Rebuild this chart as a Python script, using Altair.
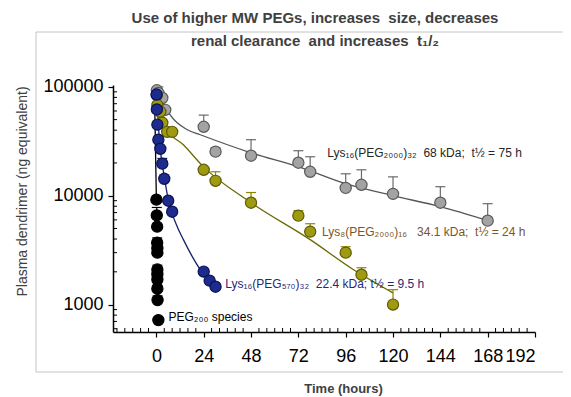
import altair as alt
import pandas as pd

# ---------------- data ----------------
gray_t = [0.25, 1, 3, 4.5, 24, 30, 48, 72, 78, 96, 104, 120, 144, 168]
gray_v = [93000, 88000, 79000, 61500, 43000, 25400, 23300, 20100, 16600, 11800, 12600, 10400, 8630, 5900]
gray_up = [97000, 100000, 79000, 61500, 55000, 27500, 32700, 25900, 22800, 15900, 17300, 14900, 12100, 8450]

olive_t = [0.25, 0.5, 2, 3, 5.5, 8, 24, 30, 48, 72, 78, 96, 104, 120]
olive_v = [84000, 68000, 59000, 46800, 38600, 38600, 17300, 13700, 8630, 6560, 4680, 3000, 1880, 1000]
olive_up = [84000, 72000, 59000, 50000, 38600, 38600, 17300, 16600, 10700, 7280, 5530, 3400, 2180, 1370]

navy_t = [0.08, 0.25, 0.5, 1, 2, 3, 4, 6, 8, 24, 27, 30]
navy_v = [85000, 62000, 45000, 32700, 27000, 19700, 14300, 9000, 7130, 2010, 1660, 1460]
navy_up = [95000, 62000, 45000, 32700, 27000, 22000, 15500, 9000, 7130, 2010, 1660, 1460]

black_t = [0, 0.2, 0.4, 0.4, 0.5, 0.5, 0.5, 0.5, 0.5, 0.5, 0.6, 1]
black_v = [9200, 6600, 5200, 3700, 3300, 3000, 2100, 1900, 1700, 1400, 1100, 720]
black_up = [9200, 7800, 5200, 4100, 3300, 3000, 2300, 1900, 1800, 1500, 1200, 720]

# fitted curves
gray_fit_t = [0, 3, 7, 15.7, 22.3, 48, 72, 96, 120, 144, 168]
gray_fit_v = [94000, 75000, 55300, 40400, 36300, 24800, 18500, 12900, 10000, 7930, 5900]
olive_fit_t = [0, 5.6, 13.7, 23.8, 48, 78, 100, 120]
olive_fit_v = [76000, 40400, 29400, 18500, 8630, 3950, 2090, 1280]
navy_fit_t = [0, 0.5, 1, 2, 4, 6, 10, 13.7, 18, 22.3, 30.9]
navy_fit_v = [97000, 70000, 45000, 26400, 15000, 9180, 5500, 3950, 2800, 2090, 1460]
black_fit_t = [-1, 0]
black_fit_v = [100000, 9200]

# annotations
label_text = ["Lys₁₆(PEG₂₀₀₀)₃₂\u00a0\u00a068 kDa;\u00a0\u00a0t½ = 75 h",
              "Lys₈(PEG₂₀₀₀)₁₆\u00a0\u00a0\u00a034.1 kDa;\u00a0\u00a0t½ = 24 h",
              "Lys₁₆(PEG₅₇₀)₃₂\u00a0\u00a022.4 kDa;\u00a0t½ = 9.5 h",
              "PEG₂₀₀ species"]
label_t = [86.6, 84, 34.9, 6.1]
label_v = [24800, 4680, 1560, 776]
label_color = ["#262626", "#7a5528", "#1f2a78", "#000000"]

title_lines = ["Use of higher MW PEGs, increases\u00a0\u00a0size, decreases",
               "renal clearance\u00a0\u00a0and increases\u00a0\u00a0t₁/₂"]

x_major = [0, 24, 48, 72, 96, 120, 144, 168, 192]
x_minor = [t for t in range(-20, 192, 4) if t % 24 != 0]
y_major = [1000, 10000, 100000]
y_minor = [600, 700, 800, 900] + [m * 1000 for m in range(2, 10)] + [m * 10000 for m in range(2, 10)]

W, H = 422, 247

xs = alt.Scale(domain=[-22, 192], nice=False, zero=False)
ys = alt.Scale(type="log", domain=[560, 104000], nice=False)
xaxis = alt.Axis(values=x_major, title="Time (hours)", grid=False, tickSize=5,
                 labelFontSize=18, labelPadding=10, labelColor="black", labelFont="Liberation Sans",
                 domainColor="black", domainWidth=1.5, tickColor="black", tickWidth=1.2,
                 titleFont="Liberation Sans", titleFontSize=13, titleFontWeight="bold", titleColor="#404040",
                 titleX=230, titleY=56, titleBaseline="middle", titleAlign="center")
yaxis = alt.Axis(values=y_major, format="d", title="Plasma  dendrimer  (ng equivalent)", grid=False, tickSize=5,
                 labelFontSize=18, labelPadding=5, labelColor="black", labelFont="Liberation Sans",
                 domainColor="black", domainWidth=1.5, tickColor="black", tickWidth=1.2,
                 titleFont="Liberation Sans", titleFontSize=14, titleFontWeight="normal", titleColor="#404040",
                 titleX=-91, titleY=106, titleBaseline="middle", titleAlign="center", titleAngle=-90)

X = alt.X("t:Q", scale=xs, axis=xaxis)
Y = alt.Y("v:Q", scale=ys, axis=yaxis)

series = [
    (gray_t, gray_v, gray_up, gray_fit_t, gray_fit_v, "#a3a3a3", "#5a5a5a", "#555555", "#6a6a6a"),
    (olive_t, olive_v, olive_up, olive_fit_t, olive_fit_v, "#9e9a12", "#5e5a00", "#6b6800", "#8a8600"),
    (navy_t, navy_v, navy_up, navy_fit_t, navy_fit_v, "#1c2b8c", "#0b1255", "#1a2366", "#1a2366"),
    (black_t, black_v, black_up, black_fit_t, black_fit_v, "#000000", "#000000", "#000000", "#000000"),
]

layers = []

# frame (decoration)
frame = pd.DataFrame({"d": [0]})
layers.append(alt.Chart(frame).mark_rule(color="#c4c4c4", strokeWidth=1).encode(
    x=alt.value(-77), x2=alt.value(460), y=alt.value(-53)))
layers.append(alt.Chart(frame).mark_rule(color="#c4c4c4", strokeWidth=1).encode(
    x=alt.value(-77), x2=alt.value(460), y=alt.value(287)))
layers.append(alt.Chart(frame).mark_rule(color="#c4c4c4", strokeWidth=1).encode(
    x=alt.value(-77), y=alt.value(-53), y2=alt.value(287)))

# title (two lines)
layers.append(alt.Chart(frame).mark_text(text=title_lines[0], font="Liberation Sans", fontSize=15,
                                         fontWeight="bold", color="#404040", align="center",
                                         baseline="middle").encode(x=alt.value(202), y=alt.value(-67)))
layers.append(alt.Chart(frame).mark_text(text=title_lines[1], font="Liberation Sans", fontSize=15,
                                         fontWeight="bold", color="#404040", align="center",
                                         baseline="middle").encode(x=alt.value(202), y=alt.value(-44)))

# minor ticks
layers.append(alt.Chart(pd.DataFrame({"t": x_minor})).mark_rule(color="black", strokeWidth=1).encode(
    x=X, y=alt.value(H), y2=alt.value(H - 4)))
layers.append(alt.Chart(pd.DataFrame({"v": y_minor})).mark_rule(color="black", strokeWidth=1).encode(
    y=Y, x=alt.value(0), x2=alt.value(4)))

for (t, v, up, ft, fv, fill, stroke, line_c, err_c) in series:
    df = pd.DataFrame({"t": t, "v": v, "up": up})
    fit = pd.DataFrame({"t": ft, "v": fv})
    layers.append(alt.Chart(fit).mark_line(color=line_c, strokeWidth=1.3, interpolate="monotone").encode(x=X, y=Y))
    layers.append(alt.Chart(df).mark_rule(color=err_c, strokeWidth=1.2).encode(x=X, y=Y, y2="up:Q"))
    layers.append(alt.Chart(df).mark_rule(color=err_c, strokeWidth=1.2, xOffset=-5, x2Offset=5).encode(
        x=X, x2="t:Q", y=alt.Y("up:Q", scale=ys, axis=yaxis)))

for (t, v, up, ft, fv, fill, stroke, line_c, err_c) in series:
    df = pd.DataFrame({"t": t, "v": v})
    layers.append(alt.Chart(df).mark_point(shape="circle", filled=True, fill=fill, stroke=stroke,
                                           strokeWidth=1.2, size=125, opacity=1).encode(x=X, y=Y))

labels = pd.DataFrame({"t": label_t, "v": label_v, "txt": label_text, "c": label_color})
layers.append(alt.Chart(labels).mark_text(align="left", baseline="middle", fontSize=12,
                                          font="Liberation Sans").encode(
    x=X, y=Y, text="txt:N", color=alt.Color("c:N", scale=None)))

chart = alt.layer(*layers).properties(
    width=W, height=H,
    autosize=alt.AutoSizeParams(type="none"),
    padding={"left": 105, "top": 77, "right": 28, "bottom": 65},
).configure_view(stroke=None)

chart.save("out.html", embed_options={"renderer": "svg", "actions": False})
